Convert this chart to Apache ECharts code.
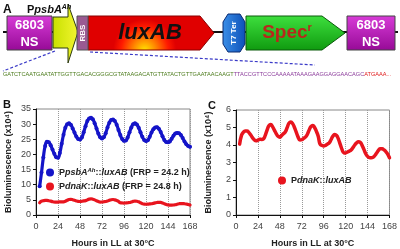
<!DOCTYPE html>
<html>
<head>
<meta charset="utf-8">
<script src="https://cdn.jsdelivr.net/npm/echarts@6/dist/echarts.min.js"></script>
<style>
html, body { margin: 0; padding: 0; background: #fff; }
#chart { width: 400px; height: 249px; }
</style>
</head>
<body>
<div id="chart"></div>
<script>
// sampling times (hours in LL)
var hours = [
  4, 6, 8, 10, 12, 14, 16, 18, 20, 22, 24, 26,
  28, 30, 32, 34, 36, 38, 40, 42, 44, 46, 48, 50,
  52, 54, 56, 58, 60, 62, 64, 66, 68, 70, 72, 74,
  76, 78, 80, 82, 84, 86, 88, 90, 92, 94, 96, 98,
  100, 102, 104, 106, 108, 110, 112, 114, 116, 118, 120, 122,
  124, 126, 128, 130, 132, 134, 136, 138, 140, 142, 144, 146,
  148, 150, 152, 154, 156, 158, 160, 162, 164, 166, 168
];
// PpsbA(Ah)::luxAB, x10^4
var psbAValues = [
  9.5, 14, 19, 22.8, 24.2, 24.0, 23.0, 21.6, 20.2, 19.1, 18.9, 20.5,
  23.5, 26.5, 28.8, 30.0, 30.3, 29.8, 28.6, 27.2, 25.9, 25.1, 24.9, 25.6,
  27.3, 29.3, 31.0, 31.9, 32.1, 31.6, 30.3, 28.6, 26.9, 25.7, 25.3, 25.7,
  27.0, 28.9, 30.5, 31.4, 31.5, 31.0, 29.8, 28.1, 26.4, 25.1, 24.5, 24.6,
  25.6, 27.3, 28.9, 30.0, 30.3, 29.9, 28.8, 27.3, 25.8, 24.8, 24.4, 24.7,
  25.8, 27.2, 28.3, 28.9, 29.0, 28.5, 27.4, 26.0, 24.8, 24.1, 24.0, 24.3,
  25.2, 26.2, 26.9, 27.1, 27.0, 26.4, 25.4, 24.3, 23.4, 22.8, 22.5
];
// PdnaK::luxAB, x10^4 (same trace in B and C)
var dnaKValues = [
  4.05, 4.55, 4.72, 4.8, 4.8, 4.72, 4.58, 4.42, 4.3, 4.24, 4.28, 4.33,
  4.32, 4.35, 4.55, 4.85, 5.1, 5.17, 5.05, 4.85, 4.65, 4.5, 4.45, 4.55,
  4.65, 4.75, 5.0, 5.25, 5.32, 5.22, 5.0, 4.72, 4.45, 4.28, 4.3, 4.38,
  4.45, 4.6, 4.85, 5.05, 5.12, 5.0, 4.78, 4.5, 4.05, 3.98, 3.95, 3.98,
  4.05, 4.12, 4.3, 4.5, 4.6, 4.55, 4.35, 4.05, 3.75, 3.56, 3.55, 3.6,
  3.65, 3.72, 3.85, 4.0, 4.12, 4.18, 4.15, 3.98, 3.75, 3.5, 3.35, 3.28,
  3.27, 3.3, 3.4, 3.55, 3.7, 3.78, 3.78, 3.72, 3.62, 3.48, 3.27
];
var seqPromoter = 'GATCTCAATGAATATTGGTTGACACGGGCGTATAAGACATGTTATACTGTTGAATAACAAGT';
var seqRbs = 'TTACCGTTCCCAAAAATAAAGAAGGAGGAACAGC';
var seqStart = 'ATGAAA...';

function pairs(vals) {
  return vals.map(function (v, i) { return [hours[i], v]; });
}

var FONT = 'Liberation Sans, Arial, sans-serif';
var blue = '#1414c8', red = '#e8141e';

function xAxisFor(gi) {
  return {
    gridIndex: gi, type: 'value', min: 0, max: 168, interval: 24,
    name: 'Hours in LL at 30°C', nameLocation: 'middle', nameGap: 24,
    nameTextStyle: { fontFamily: FONT, fontSize: 9, fontWeight: 'bold', color: '#222' },
    axisLine: { show: true, lineStyle: { color: '#111', width: 1 } },
    axisTick: { show: true, inside: false, length: 3, lineStyle: { color: '#111' } },
    axisLabel: { fontFamily: FONT, fontSize: 9, color: '#444', margin: 7 },
    splitLine: { show: true, lineStyle: { color: '#999', type: 'dotted', width: 1 } }
  };
}
function yAxisFor(gi, max, step) {
  return {
    gridIndex: gi, type: 'value', min: 0, max: max, interval: step,
    name: 'Bioluminescence (x10⁴)', nameLocation: 'middle', nameGap: 23,
    nameTextStyle: { fontFamily: FONT, fontSize: 9, fontWeight: 'bold', color: '#222' },
    axisLine: { show: true, lineStyle: { color: '#111', width: 1 } },
    axisTick: { show: true, inside: false, length: 3, lineStyle: { color: '#111' } },
    axisLabel: { fontFamily: FONT, fontSize: 9, color: '#444', margin: 5 },
    splitLine: { show: false }
  };
}

var richLegend = {
  b: { fontFamily: FONT, fontSize: 9, fontWeight: 'bold', fontStyle: 'normal', color: '#222' },
  bi: { fontFamily: FONT, fontSize: 9, fontWeight: 'bold', fontStyle: 'italic', color: '#222' },
  sup: { fontFamily: FONT, fontSize: 6, fontWeight: 'bold', fontStyle: 'italic', color: '#222', verticalAlign: 'top', padding: [0, 0, 5, 0] }
};
var legendText = {
  'psbA': '{b|P}{bi|psbA}{sup|Ah}{b|::}{bi|luxAB}{b| (FRP = 24.2 h)}',
  'dnaK': '{b|P}{bi|dnaK}{b|::}{bi|luxAB}{b| (FRP = 24.8 h)}',
  'dnaK ': '{b|P}{bi|dnaK}{b|::}{bi|luxAB}'
};

var purpleGrad = { type: 'linear', x: 0, y: 0, x2: 0, y2: 1, colorStops: [
  { offset: 0, color: '#d83cd8' }, { offset: 1, color: '#960a96' }] };
var luxGrad = { type: 'radial', x: 0.45, y: 1.0, r: 0.9, colorStops: [
  { offset: 0, color: '#ffe600' }, { offset: 0.35, color: '#ff8a00' }, { offset: 0.75, color: '#ff1a00' }, { offset: 1, color: '#e00000' }] };
var greenGrad = { type: 'linear', x: 0, y: 0, x2: 0, y2: 1, colorStops: [
  { offset: 0, color: '#3ee03e' }, { offset: 1, color: '#0f9a0f' }] };
var promGrad = { type: 'linear', x: 0, y: 0, x2: 1, y2: 0, colorStops: [
  { offset: 0, color: '#c8e000' }, { offset: 1, color: '#f2f530' }] };
var blueGrad = { type: 'linear', x: 0, y: 0, x2: 1, y2: 0, colorStops: [
  { offset: 0, color: '#3b8fe8' }, { offset: 1, color: '#0d50b8' }] };

var boxText = { fontFamily: FONT, fontSize: 13, fontWeight: 'bold', fill: '#fff', align: 'center', verticalAlign: 'middle' };

var graphics = [
  // panel A backbone
  { type: 'line', z: 1, shape: { x1: 3, y1: 32, x2: 398, y2: 32 }, style: { stroke: '#111', lineWidth: 2 } },
  { type: 'rect', z: 2, shape: { x: 7, y: 16, width: 45, height: 34 }, style: { fill: purpleGrad, stroke: '#444', lineWidth: 1 } },
  { type: 'text', z: 3, x: 29.5, y: 25, style: Object.assign({ text: '6803' }, boxText) },
  { type: 'text', z: 3, x: 29.5, y: 42, style: Object.assign({ text: 'NS' }, boxText) },
  { type: 'polygon', z: 2, shape: { points: [[53, 17], [68, 17], [68, 4], [78, 32], [68, 63], [68, 48], [53, 48]] }, style: { fill: promGrad, stroke: '#2c3a10', lineWidth: 1 } },
  { type: 'rect', z: 3, shape: { x: 77, y: 16, width: 11, height: 34 }, style: { fill: '#9a5a92', stroke: '#555', lineWidth: 1 } },
  { type: 'text', z: 4, x: 82.5, y: 33, rotation: Math.PI / 2, style: { text: 'RBS', fontFamily: FONT, fontSize: 8, fontWeight: 'bold', fill: '#fff', align: 'center', verticalAlign: 'middle' } },
  { type: 'polygon', z: 2, shape: { points: [[88, 16], [200, 16], [214, 33], [200, 50], [88, 50]] }, style: { fill: luxGrad, stroke: '#8a0000', lineWidth: 1 } },
  { type: 'text', z: 3, x: 150, y: 33, style: { text: 'luxAB', fontFamily: FONT, fontSize: 22, fontWeight: 'bold', fontStyle: 'italic', fill: '#111', align: 'center', verticalAlign: 'middle' } },
  { type: 'polygon', z: 2, shape: { points: [[228, 14], [240, 14], [245, 22], [245, 44], [240, 52], [228, 52], [223, 44], [223, 22]] }, style: { fill: blueGrad, stroke: '#0a2a70', lineWidth: 1 } },
  { type: 'text', z: 3, x: 234, y: 33, rotation: Math.PI / 2, style: { text: 'T7 Ter', fontFamily: FONT, fontSize: 8, fontWeight: 'bold', fill: '#fff', align: 'center', verticalAlign: 'middle' } },
  { type: 'polygon', z: 2, shape: { points: [[246, 16], [322, 16], [345, 33], [322, 50], [246, 50]] }, style: { fill: greenGrad, stroke: '#0a5a0a', lineWidth: 1 } },
  { type: 'text', z: 3, x: 287, y: 33, style: { text: '{s|Spec}{r|r}', align: 'center', verticalAlign: 'middle',
      rich: { s: { fontFamily: FONT, fontSize: 19, fontWeight: 'bold', fill: '#b8281c' },
              r: { fontFamily: FONT, fontSize: 11, fontWeight: 'bold', fill: '#b8281c', verticalAlign: 'top', padding: [0, 0, 10, 0] } } } },
  { type: 'rect', z: 2, shape: { x: 347, y: 16, width: 48, height: 34 }, style: { fill: purpleGrad, stroke: '#444', lineWidth: 1 } },
  { type: 'text', z: 3, x: 371, y: 25, style: Object.assign({ text: '6803' }, boxText) },
  { type: 'text', z: 3, x: 371, y: 42, style: Object.assign({ text: 'NS' }, boxText) },
  // dashed zoom lines
  { type: 'line', z: 1, shape: { x1: 55, y1: 51, x2: 3, y2: 71 }, style: { stroke: '#3a3ac8', lineWidth: 1.2, lineDash: [3, 2] } },
  { type: 'line', z: 1, shape: { x1: 90, y1: 52, x2: 315, y2: 65 }, style: { stroke: '#3a3ac8', lineWidth: 1.2, lineDash: [3, 2] } },
  // sequence
  { type: 'text', z: 3, x: 3, y: 74, style: { text: '{g|' + seqPromoter + '}{p|' + seqRbs + '}{r|' + seqStart + '}', verticalAlign: 'middle',
      rich: { g: { fontFamily: FONT, fontSize: 5.6, fill: '#4a7a1a' },
              p: { fontFamily: FONT, fontSize: 5.6, fill: '#8a3a9a' },
              r: { fontFamily: FONT, fontSize: 5.6, fill: '#e01818' } } } },
  // labels
  { type: 'text', z: 3, x: 3, y: 10, style: { text: 'A', fontFamily: FONT, fontSize: 12, fontWeight: 'bold', fill: '#111', verticalAlign: 'middle' } },
  { type: 'text', z: 3, x: 27, y: 10, style: { text: '{b|P}{bi|psbA}{sup|Ah}', verticalAlign: 'middle',
      rich: { b: { fontFamily: FONT, fontSize: 11, fontWeight: 'bold', fontStyle: 'normal', fill: '#111' },
              bi: { fontFamily: FONT, fontSize: 11, fontWeight: 'bold', fontStyle: 'italic', fill: '#111' },
              sup: { fontFamily: FONT, fontSize: 7, fontWeight: 'bold', fontStyle: 'italic', fill: '#111', verticalAlign: 'top', padding: [0, 0, 6, 0] } } } },
  { type: 'text', z: 3, x: 3, y: 105, style: { text: 'B', fontFamily: FONT, fontSize: 11, fontWeight: 'bold', fill: '#111', verticalAlign: 'middle' } },
  { type: 'text', z: 3, x: 208, y: 106, style: { text: 'C', fontFamily: FONT, fontSize: 11, fontWeight: 'bold', fill: '#111', verticalAlign: 'middle' } }
];

var chart = echarts.init(document.getElementById('chart'), null, { renderer: 'canvas' });
chart.setOption({
  animation: false,
  backgroundColor: '#fff',
  grid: [
    { left: 36, top: 109, width: 154, height: 110, show: true, borderColor: '#888', borderWidth: 1, containLabel: false },
    { left: 236, top: 110, width: 154, height: 110, show: true, borderColor: '#888', borderWidth: 1, containLabel: false }
  ],
  xAxis: [xAxisFor(0), xAxisFor(1)],
  yAxis: [yAxisFor(0, 35, 5), yAxisFor(1, 6, 1)],
  legend: [
    { data: ['psbA', 'dnaK'], left: 46, top: 167, orient: 'vertical', itemGap: 5, itemWidth: 8, itemHeight: 8,
      icon: 'circle', formatter: function (n) { return legendText[n]; }, textStyle: { rich: richLegend }, padding: 0 },
    { data: ['dnaK '], left: 278, top: 176, orient: 'vertical', itemWidth: 8, itemHeight: 8,
      icon: 'circle', formatter: function (n) { return legendText[n]; }, textStyle: { rich: richLegend }, padding: 0 }
  ],
  series: [
    { name: 'psbA', type: 'line', xAxisIndex: 0, yAxisIndex: 0, data: pairs(psbAValues), smooth: true,
      showSymbol: true, symbol: 'circle', symbolSize: 4, itemStyle: { color: blue },
      lineStyle: { color: blue, width: 3.2, cap: 'round' } },
    { name: 'dnaK', type: 'line', xAxisIndex: 0, yAxisIndex: 0, data: pairs(dnaKValues), smooth: true,
      showSymbol: false, itemStyle: { color: red }, lineStyle: { color: red, width: 3.2, cap: 'round' } },
    { name: 'dnaK ', type: 'line', xAxisIndex: 1, yAxisIndex: 1, data: pairs(dnaKValues), smooth: true,
      showSymbol: false, itemStyle: { color: red }, lineStyle: { color: red, width: 3.5, cap: 'round' } }
  ],
  graphic: graphics
});
</script>
</body>
</html>
